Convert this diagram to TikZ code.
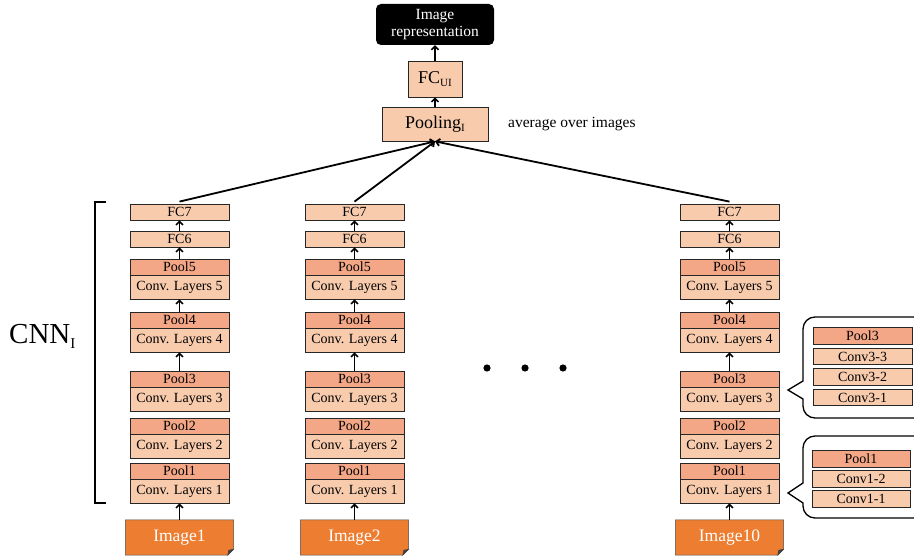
\documentclass[tikz,border=0pt]{standalone}
\usepackage{fontspec}
\setmainfont{Liberation Serif}
\usetikzlibrary{arrows.meta}
\pgfdeclarelayer{bg}
\pgfsetlayers{bg,main}
\definecolor{poolc}{HTML}{F3A786}
\definecolor{convc}{HTML}{F8CBAD}
\definecolor{imgc}{HTML}{ED7D31}
\tikzset{
  layerbox/.style={draw=black!85, line width=0.8pt, inner sep=0pt, minimum width=99pt, font=\fontsize{14}{14}\selectfont},
  poolbox/.style={layerbox, fill=poolc, minimum height=16pt},
  convbox/.style={layerbox, fill=convc, minimum height=24pt},
  fcbox/.style={layerbox, fill=convc, minimum height=16pt},
  subbox/.style={draw=black!85, line width=0.8pt, inner sep=0pt, minimum height=16.5pt, font=\fontsize{14}{14}\selectfont},
  arr/.style={-{Straight Barb[length=3.5pt,width=7pt]}, line width=1.5pt},
  bubble/.style={draw=black, line width=1.3pt},
}
\begin{document}
\begin{tikzpicture}[x=1pt,y=-1pt]
\useasboundingbox (0,0) rectangle (914,559);

% top part
\node[fill=black, rounded corners=5pt, minimum width=118pt, minimum height=41pt, text=white, align=center, inner sep=0pt, font=\fontsize{15.5}{16.5}\selectfont] (rep) at (435,24.5) {Image\\representation};
\node[draw=black!85, line width=0.8pt, fill=convc, minimum width=54pt, minimum height=36pt, inner sep=0pt, font=\fontsize{18}{18}\selectfont] (fcui) at (435,79) {FC\raisebox{-3pt}{\fontsize{11}{11}\selectfont UI}};
\node[draw=black!85, line width=0.8pt, fill=convc, minimum width=106pt, minimum height=34pt, inner sep=0pt, font=\fontsize{18}{18}\selectfont] (pool) at (435,124) {Pooling\raisebox{-3.5pt}{\fontsize{11}{11}\selectfont I}};
\node[anchor=west, inner sep=0pt, font=\fontsize{15.5}{15.5}\selectfont] (avg) at (508,124) {average over images};
\draw[arr] (pool.north) -- (fcui.south);
\draw[arr] (fcui.north) -- (rep.south);

% columns
\foreach \cc/\x/\n in {a/179.5/1, b/354.5/2, c/729.5/10} {
  \node[fcbox] (\cc fc7) at (\x,212) {FC7};
  \node[fcbox] (\cc fc6) at (\x,239) {FC6};
  \node[poolbox] (\cc p5) at (\x,267) {Pool5};
  \node[convbox] (\cc c5) at (\x,287) {Conv. Layers 5};
  \node[poolbox] (\cc p4) at (\x,320) {Pool4};
  \node[convbox] (\cc c4) at (\x,340) {Conv. Layers 4};
  \node[poolbox] (\cc p3) at (\x,379) {Pool3};
  \node[convbox] (\cc c3) at (\x,399) {Conv. Layers 3};
  \node[poolbox] (\cc p2) at (\x,426) {Pool2};
  \node[convbox] (\cc c2) at (\x,446) {Conv. Layers 2};
  \node[poolbox] (\cc p1) at (\x,471) {Pool1};
  \node[convbox] (\cc c1) at (\x,491) {Conv. Layers 1};
  \node[minimum width=108pt, minimum height=35pt, inner sep=0pt, text=white, font=\fontsize{17.5}{17.5}\selectfont] (\cc img) at (\x,537.5) {Image\n};
  \begin{pgfonlayer}{bg}
    \filldraw[fill=imgc, draw=black!70, line width=0.5pt] (\cc img.north west) -- (\cc img.north east) -- ([yshift=6pt]\cc img.south east) -- ([xshift=-6pt]\cc img.south east) -- (\cc img.south west) -- cycle;
    \filldraw[fill=black!75, draw=black!75, line width=0.4pt] ([yshift=6pt]\cc img.south east) -- ([xshift=-6pt]\cc img.south east) -- ([xshift=-5pt,yshift=5pt]\cc img.south east) -- cycle;
  \end{pgfonlayer}
  \draw[arr] (\cc img.north) -- (\cc c1.south);
  \draw[arr] (\cc p3.north) -- (\cc c4.south);
  \draw[arr] (\cc p4.north) -- (\cc c5.south);
  \draw[arr] (\cc p5.north) -- (\cc fc6.south);
  \draw[arr] (\cc fc6.north) -- (\cc fc7.south);
  \draw[arr, line width=1.8pt] ([yshift=2pt]\cc fc7.north) -- (pool.south);
}

% bracket and label
\coordinate (bt) at (106,202);
\coordinate (bb) at (106,503);
\draw[line width=1.4pt] (bt) -- ++(-11,0) |- (bb);
\node[anchor=base west, inner sep=0pt, font=\fontsize{29}{29}\selectfont] (cnn) at (9,343) {CNN\raisebox{-5.5pt}{\fontsize{15}{15}\selectfont I}};

% dots
\fill (487,368) circle (3.6pt);
\fill (525,368) circle (3.6pt);
\fill (563,368) circle (3.6pt);

% bubble for block 3
\draw[bubble] (803,399) [rounded corners=12pt] -- (803,418) -- (930,418) -- (930,317) -- (803,317) [sharp corners] -- (803,381) -- (788,390) -- cycle;
\node[subbox, fill=poolc, minimum width=99pt] (b3p) at (862.5,336) {Pool3};
\node[subbox, fill=convc, minimum width=99pt] (b33) at (862.5,356.5) {Conv3-3};
\node[subbox, fill=convc, minimum width=99pt] (b32) at (862.5,377) {Conv3-2};
\node[subbox, fill=convc, minimum width=99pt] (b31) at (862.5,397.5) {Conv3-1};

% bubble for block 1
\draw[bubble] (803,503) [rounded corners=12pt] -- (803,518) -- (930,518) -- (930,436) -- (803,436) [sharp corners] -- (803,483) -- (788,493) -- cycle;
\node[subbox, fill=poolc, minimum width=98pt] (b1p) at (861,459) {Pool1};
\node[subbox, fill=convc, minimum width=98pt] (b12) at (861,479) {Conv1-2};
\node[subbox, fill=convc, minimum width=98pt] (b11) at (861,499) {Conv1-1};
\end{tikzpicture}
\end{document}
